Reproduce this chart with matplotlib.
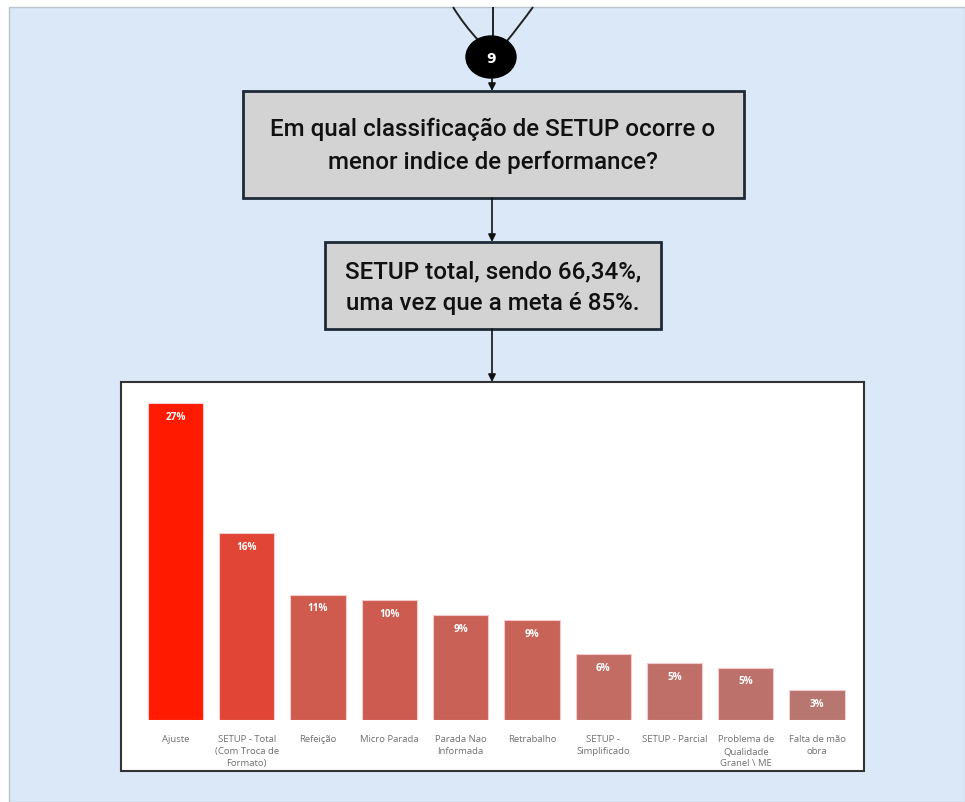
import matplotlib.pyplot as plt
from matplotlib.patches import Rectangle, Ellipse, PathPatch
from matplotlib.path import Path

categories = [
    "Ajuste",
    "SETUP - Total\n(Com Troca de\nFormato)",
    "Refeição",
    "Micro Parada",
    "Parada Nao\nInformada",
    "Retrabalho",
    "SETUP -\nSimplificado",
    "SETUP - Parcial",
    "Problema de\nQualidade\nGranel \\ ME",
    "Falta de mão\nobra",
]
values = [27.3, 16.1, 10.8, 10.3, 9.0, 8.6, 5.7, 4.9, 4.5, 2.6]
value_labels = ["27%", "16%", "11%", "10%", "9%", "9%", "6%", "5%", "5%", "3%"]
bar_colors = ["#ff1a00", "#e04535", "#cf5b4f", "#cd5b50", "#c96156",
              "#c86358", "#c26c64", "#bf6f68", "#bd716b", "#b87670"]

question = "Em qual classificação de SETUP ocorre o\nmenor indice de performance?"
answer = "SETUP total, sendo 66,34%,\numa vez que a meta é 85%."
step = "9"

W, H = 965, 803
fig = plt.figure(figsize=(W / 100, H / 100), dpi=100)
fig.patch.set_facecolor("white")

# background canvas in pixel coordinates
bg = fig.add_axes([0, 0, 1, 1])
bg.set_xlim(0, W)
bg.set_ylim(H, 0)
bg.axis("off")

bg.add_patch(Rectangle((9, 8), W - 9, H - 8, facecolor="#dae8f7",
                       edgecolor="#b8c4d0", lw=1))

# incoming connectors (cut at the top of the canvas)
for (x0, y0), (cx, cy), (x1, y1) in [((453, 8), (464, 26), (479, 42)),
                                      ((493, 8), (493, 22), (493, 38)),
                                      ((533, 8), (520, 26), (507, 42))]:
    p = Path([(x0, y0), (cx, cy), (x1, y1)], [Path.MOVETO, Path.CURVE3, Path.CURVE3])
    bg.add_patch(PathPatch(p, facecolor="none", edgecolor="#222222", lw=1.4))

bg.add_patch(Ellipse((491, 58), 50, 42, facecolor="black", edgecolor="black"))
bg.text(491, 59, step, color="white", ha="center", va="center",
        fontsize=10, fontweight="bold", family="DejaVu Sans")

arrow = dict(arrowstyle="-|>", color="#111111", lw=1.2, mutation_scale=11,
             shrinkA=0, shrinkB=0)
for y0, y1 in [(79, 92), (199, 243), (330, 383)]:
    bg.annotate("", xy=(492, y1), xytext=(492, y0), arrowprops=arrow)

box_edge = "#1e2a38"
bg.add_patch(Rectangle((243, 92), 501, 107, facecolor="#d3d3d3",
                       edgecolor=box_edge, lw=2))
bg.text(493, 146, question, ha="center", va="center", fontsize=17.4,
        family="Roboto", fontweight="medium", linespacing=1.5, color="#111111")

bg.add_patch(Rectangle((325, 243), 336, 87, facecolor="#d3d3d3",
                       edgecolor=box_edge, lw=2))
bg.text(493, 288, answer, ha="center", va="center", fontsize=17.4,
        family="Roboto", fontweight="medium", linespacing=1.5, color="#111111")

# chart panel
bg.add_patch(Rectangle((121, 383), 743, 389, facecolor="white",
                       edgecolor="#333333", lw=1.5))

# bar chart axes: spans panel width, bottom at the bar baseline
step_px = 71.28
x_first = 175.5
left_px, right_px = 121, 864
base_px, top_px = 721, 385
ax = fig.add_axes([left_px / W, (H - base_px) / H,
                   (right_px - left_px) / W, (base_px - top_px) / H])
ax.patch.set_alpha(0)
ax.set_xlim((left_px - x_first) / step_px, (right_px - x_first) / step_px)
ax.set_ylim(0, (base_px - top_px) / (317 / values[0]))

x = list(range(len(categories)))
bars = ax.bar(x, values, width=0.775, color=bar_colors,
              edgecolor="#f6caca", linewidth=0.8)

for xi, v, lab in zip(x, values, value_labels):
    ax.annotate(lab, (xi, v), xytext=(0, -9.5), textcoords="offset points",
                ha="center", va="center", color="white", fontsize=7.2,
                fontweight="bold", family="Open Sans")

ax.set_xticks(x)
ax.set_xticklabels(categories, fontsize=6.8, color="#707070",
                   family="Open Sans", linespacing=1.45)
ax.tick_params(axis="x", length=0, pad=10)
ax.set_yticks([])
for s in ax.spines.values():
    s.set_visible(False)

fig.savefig("out.png", dpi=100)
